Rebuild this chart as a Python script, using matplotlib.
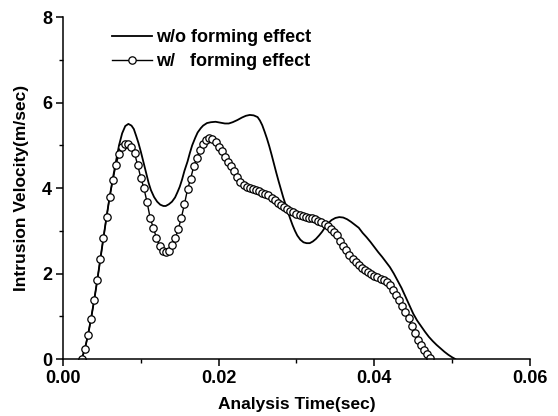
import numpy as np
import matplotlib
matplotlib.use("Agg")
import matplotlib.pyplot as plt
from matplotlib.ticker import MultipleLocator, FormatStrFormatter

plt.rcParams['font.family'] = ['Liberation Sans', 'DejaVu Sans']
plt.rcParams['font.weight'] = 'bold'

# ---- data: w/o forming effect (solid line) ----
t_wo = [0.0024, 0.0028, 0.0032, 0.0036, 0.0040, 0.0044, 0.0048, 0.0052, 0.0056, 0.0060,
        0.0064, 0.0068, 0.0072, 0.0076, 0.0080, 0.0084, 0.0088, 0.0091, 0.0094, 0.0097,
        0.0100, 0.0104, 0.0107, 0.0110, 0.0113, 0.0117, 0.0121, 0.0125, 0.0129, 0.0132,
        0.0136, 0.0140, 0.0144, 0.0147, 0.0150, 0.0153, 0.0156, 0.0160, 0.0163, 0.0166,
        0.0170, 0.0173, 0.0177, 0.0180, 0.0185, 0.0190, 0.0196, 0.0202, 0.0208, 0.0213,
        0.0218, 0.0224, 0.0230, 0.0235, 0.0240, 0.0245, 0.0250, 0.0253, 0.0256, 0.0259,
        0.0262, 0.0265, 0.0268, 0.0271, 0.0274, 0.0277, 0.0280, 0.0283, 0.0286, 0.0289,
        0.0292, 0.0295, 0.0298, 0.0301, 0.0305, 0.0309, 0.0313, 0.0317, 0.0321, 0.0325,
        0.0329, 0.0333, 0.0337, 0.0341, 0.0345, 0.0350, 0.0355, 0.0360, 0.0365, 0.0370,
        0.0375, 0.0380, 0.0385, 0.0390, 0.0395, 0.0400, 0.0405, 0.0410, 0.0415, 0.0420,
        0.0425, 0.0430, 0.0435, 0.0440, 0.0445, 0.0450, 0.0455, 0.0460, 0.0465, 0.0470,
        0.0475, 0.0480, 0.0485, 0.0490, 0.0495, 0.0500, 0.0504]
v_wo = [0.00, 0.23, 0.55, 0.94, 1.37, 1.84, 2.34, 2.84, 3.33, 3.80,
        4.22, 4.62, 5.00, 5.28, 5.45, 5.50, 5.46, 5.38, 5.22, 5.05,
        4.85, 4.56, 4.34, 4.12, 3.95, 3.79, 3.68, 3.61, 3.58, 3.58,
        3.62, 3.68, 3.78, 3.90, 4.03, 4.20, 4.40, 4.62, 4.82, 5.00,
        5.18, 5.30, 5.40, 5.46, 5.52, 5.54, 5.55, 5.53, 5.51, 5.51,
        5.54, 5.59, 5.65, 5.69, 5.71, 5.70, 5.66, 5.58, 5.47, 5.32,
        5.16, 4.98, 4.78, 4.57, 4.36, 4.16, 3.97, 3.78, 3.61, 3.44,
        3.28, 3.13, 3.00, 2.89, 2.79, 2.73, 2.71, 2.71, 2.75, 2.81,
        2.89, 2.98, 3.09, 3.18, 3.25, 3.30, 3.32, 3.31, 3.27, 3.21,
        3.14, 3.07, 2.95, 2.85, 2.74, 2.62, 2.50, 2.39, 2.27, 2.15,
        2.00, 1.83, 1.66, 1.46, 1.26, 1.06, 0.90, 0.77, 0.64, 0.52,
        0.42, 0.33, 0.25, 0.17, 0.10, 0.04, 0.00]

# ---- data: w/ forming effect (line + open circles), sampled every 0.0004 s ----
t_w = np.round(np.arange(0.0024, 0.04721, 0.0004), 4)
v_w = [0.00, 0.23, 0.55, 0.94, 1.37, 1.84, 2.34, 2.84, 3.33, 3.80,
       4.19, 4.54, 4.80, 4.95, 5.04, 5.03, 4.95, 4.81, 4.53, 4.24,
       3.99, 3.67, 3.30, 3.07, 2.84, 2.64, 2.53, 2.50, 2.53, 2.66,
       2.82, 3.03, 3.30, 3.62, 3.97, 4.22, 4.51, 4.70, 4.90, 5.03,
       5.12, 5.16, 5.15, 5.08, 4.97, 4.87, 4.72, 4.60, 4.51, 4.39,
       4.26, 4.15, 4.08, 4.03, 3.99, 3.97, 3.95, 3.93, 3.89, 3.86,
       3.83, 3.77, 3.72, 3.66, 3.61, 3.56, 3.51, 3.47, 3.44, 3.40,
       3.37, 3.35, 3.33, 3.31, 3.29, 3.27, 3.24, 3.21, 3.16, 3.12,
       3.05, 2.97, 2.89, 2.77, 2.65, 2.55, 2.44, 2.34, 2.27, 2.20,
       2.13, 2.08, 2.04, 2.00, 1.95, 1.91, 1.88, 1.85, 1.80, 1.73,
       1.61, 1.50, 1.39, 1.23, 1.09, 0.95, 0.77, 0.60, 0.44, 0.33,
       0.22, 0.11, 0.03]

labels = ["w/o forming effect", "w/   forming effect"]
x_ticks = [0.00, 0.02, 0.04, 0.06]
y_ticks = [0, 2, 4, 6, 8]

fig = plt.figure(figsize=(5.58, 4.16), dpi=100)
ax = fig.add_axes([0.1129, 0.137, 0.8369, 0.822])

ax.plot(t_wo, v_wo, color='black', lw=1.3, label=labels[0])
ax.plot(t_w, v_w, color='black', lw=1.0, marker='o', markersize=5.3,
        markerfacecolor='white', markeredgecolor='black', markeredgewidth=0.9,
        label=labels[1])

ax.set_xlim(0, 0.06)
ax.set_ylim(0, 8)
ax.set_xticks(x_ticks)
ax.set_yticks(y_ticks)
ax.xaxis.set_minor_locator(MultipleLocator(0.01))
ax.yaxis.set_minor_locator(MultipleLocator(1))
ax.xaxis.set_major_formatter(FormatStrFormatter('%.2f'))
ax.tick_params(which='major', direction='out', length=5, width=1.1, labelsize=13, pad=3)
ax.tick_params(which='minor', direction='out', length=3, width=1.0)
for lab in ax.get_xticklabels() + ax.get_yticklabels():
    lab.set_fontweight('bold')

ax.spines['top'].set_visible(False)
ax.spines['right'].set_visible(False)
ax.spines['left'].set_linewidth(1.1)
ax.spines['bottom'].set_linewidth(1.1)

ax.set_xlabel("Analysis Time(sec)", fontsize=12.5, fontweight='bold', labelpad=7)
ax.set_ylabel("Intrusion Velocity(m/sec)", fontsize=12.5, fontweight='bold', labelpad=9)

leg = ax.legend(loc='upper left', bbox_to_anchor=(0.09, 0.985), frameon=False,
                fontsize=13, handlelength=2.2, handletextpad=0.25, numpoints=1,
                labelspacing=0.38, borderaxespad=0)
for txt in leg.get_texts():
    txt.set_fontweight('bold')

fig.savefig("out.png", dpi=100)
